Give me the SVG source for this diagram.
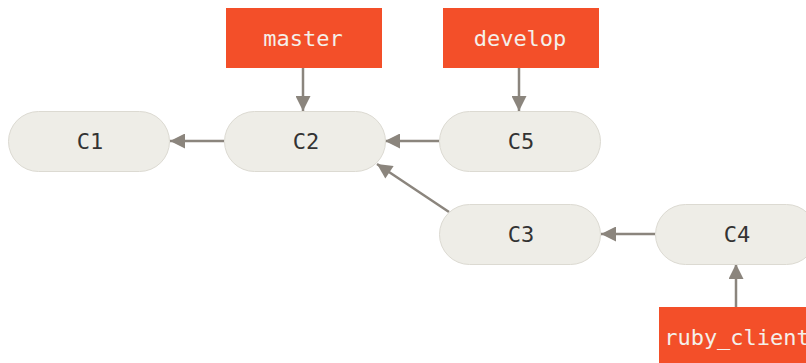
<svg xmlns="http://www.w3.org/2000/svg" width="806" height="363" viewBox="0 0 806 363">
<defs>
<style>
.commit rect{fill:#eeede7;stroke:#dcdad2;stroke-width:1}
.branch rect{fill:#f34f29}
text{font-family:"DejaVu Sans Mono","Liberation Mono",monospace;font-size:22px;text-anchor:middle}
.commit text{fill:#333333}
.branch text{fill:#f4f0ea}
.conn line{stroke:#8b857d;stroke-width:2.5;marker-end:url(#ah)}
</style>
<marker id="ah" viewBox="0 0 10 10" refX="10" refY="5" markerWidth="8" markerHeight="6" markerUnits="strokeWidth" orient="auto">
<path d="M0,0 L10,5 L0,10 z" fill="#8b857d"/>
</marker>
</defs>
<rect width="806" height="363" fill="#ffffff"/>
<g class="conn" id="connectors">
<line x1="303" y1="68" x2="303" y2="111"/>
<line x1="224" y1="141" x2="170" y2="141"/>
<line x1="519" y1="68" x2="519" y2="111"/>
<line x1="439" y1="141" x2="385" y2="141"/>
<line x1="449" y1="212" x2="377" y2="164"/>
<line x1="655" y1="234" x2="601" y2="234"/>
<line x1="736" y1="307" x2="736" y2="264"/>
</g>
<g class="commit" id="C1"><rect x="8.5" y="111.5" width="161" height="60" rx="30"/><text x="90" y="149">C1</text></g>
<g class="commit" id="C2"><rect x="224.5" y="111.5" width="161" height="60" rx="30"/><text x="306" y="149">C2</text></g>
<g class="commit" id="C5"><rect x="439.5" y="111.5" width="161" height="60" rx="30"/><text x="521" y="149">C5</text></g>
<g class="commit" id="C3"><rect x="439.5" y="204.5" width="161" height="60" rx="30"/><text x="521" y="242">C3</text></g>
<g class="commit" id="C4"><rect x="655.5" y="204.5" width="161" height="60" rx="30"/><text x="737" y="242">C4</text></g>
<g class="branch" id="master"><rect x="226" y="8" width="156" height="60"/><text x="303" y="46">master</text></g>
<g class="branch" id="develop"><rect x="443" y="8" width="156" height="60"/><text x="520" y="46">develop</text></g>
<g class="branch" id="ruby_client"><rect x="659" y="307" width="156" height="60"/><text x="737" y="345">ruby_client</text></g>
</svg>
